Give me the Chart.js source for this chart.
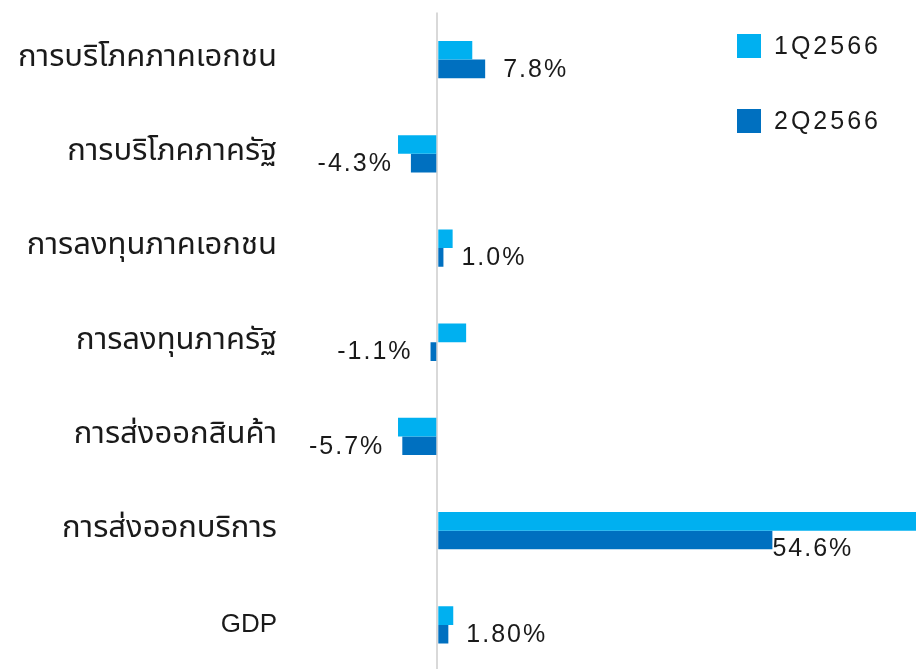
<!DOCTYPE html>
<html lang="th">
<head>
  <meta charset="UTF-8" />
  <title>GDP components</title>
  <script src="https://cdn.jsdelivr.net/npm/chart.js"></script>
  <style>
    html, body { margin: 0; padding: 0; background: #fff; overflow: hidden; }
    #wrap { position: relative; width: 916px; height: 672px; }
  </style>
</head>
<body>
<div id="wrap"><canvas id="grafico"></canvas></div>
<script>
  const categorias = ['การบริโภคภาคเอกชน', 'การบริโภคภาครัฐ', 'การลงทุนภาคเอกชน', 'การลงทุนภาครัฐ', 'การส่งออกสินค้า', 'การส่งออกบริการ', 'GDP'];
  const serie1Q = [5.7, -6.4, 2.5, 4.7, -6.4, 80.8, 2.6];
  const serie2Q = [7.8, -4.3, 1.0, -1.1, -5.7, 54.6, 1.8];
  const rotulos2Q = ['7.8%', '-4.3%', '1.0%', '-1.1%', '-5.7%', '54.6%', '1.80%'];
  const nomesSeries = ['1Q2566', '2Q2566'];
  const cores = ['#00B0F0', '#0070C0'];

  const fonteNum = "'Liberation Sans', Arial, sans-serif";
  const fonteThai = "'Noto Sans Thai', 'Noto Sans', 'DejaVu Sans', sans-serif";

  // rótulos da série 2Q ao lado das barras
  const rotulosPlugin = {
    id: 'rotulos',
    afterDatasetsDraw(chart) {
      const ctx = chart.ctx;
      const meta = chart.getDatasetMeta(1);
      ctx.save();
      ctx.font = '25px ' + fonteNum;
      ctx.letterSpacing = '2px';
      ctx.fillStyle = '#1a1a1a';
      ctx.textBaseline = 'middle';
      meta.data.forEach((bar, i) => {
        const v = serie2Q[i];
        let x = bar.x, y = bar.y + 1;
        if (i === 5) { ctx.textAlign = 'left'; y += 8; }
        else if (v >= 0) { ctx.textAlign = 'left'; x += 18; }
        else { ctx.textAlign = 'right'; x -= 18; }
        ctx.fillText(rotulos2Q[i], x, y);
      });
      ctx.restore();
    }
  };

  const legendaPlugin = {
    id: 'legenda',
    afterDraw(chart) {
      const ctx = chart.ctx;
      ctx.save();
      ctx.font = '25px ' + fonteNum;
      ctx.letterSpacing = '3px';
      ctx.textBaseline = 'middle';
      ctx.textAlign = 'left';
      nomesSeries.forEach((nome, i) => {
        const y = 34 + i * 75;
        ctx.fillStyle = cores[i];
        ctx.fillRect(737, y, 24, 24);
        ctx.fillStyle = '#1a1a1a';
        ctx.fillText(nome, 774, y + 13);
      });
      ctx.restore();
    }
  };

  new Chart(document.getElementById('grafico'), {
    type: 'bar',
    data: {
      labels: categorias,
      datasets: [
        { label: nomesSeries[0], data: serie1Q, backgroundColor: cores[0] },
        { label: nomesSeries[1], data: serie2Q, backgroundColor: cores[1] }
      ]
    },
    options: {
      indexAxis: 'y',
      responsive: true,
      maintainAspectRatio: false,
      animation: false,
      layout: { padding: { top: 12.5, right: 0, bottom: 0, left: 0 } },
      datasets: { bar: { categoryPercentage: 0.396, barPercentage: 1 } },
      plugins: {
        legend: { display: false },
        tooltip: { enabled: false }
      },
      scales: {
        x: {
          min: -24, max: 78,
          ticks: { display: false, stepSize: 2 },
          grid: {
            drawTicks: false,
            lineWidth: 2,
            color: c => c.tick && c.tick.value === 0 ? '#D9D9D9' : 'transparent'
          },
          border: { display: false },
          afterFit: s => { s.height = 0; s.paddingLeft = 0; s.paddingRight = 0; }
        },
        y: {
          afterFit: s => { s.width = 290; s.paddingTop = 0; s.paddingBottom = 0; },
          grid: { display: false, drawTicks: false },
          border: { display: false },
          ticks: {
            color: '#1a1a1a',
            padding: 13,
            font: c => categorias[c.index] === 'GDP'
              ? { size: 26, family: fonteNum }
              : { size: 31, family: fonteThai }
          }
        }
      }
    },
    plugins: [rotulosPlugin, legendaPlugin]
  });
</script>
</body>
</html>
